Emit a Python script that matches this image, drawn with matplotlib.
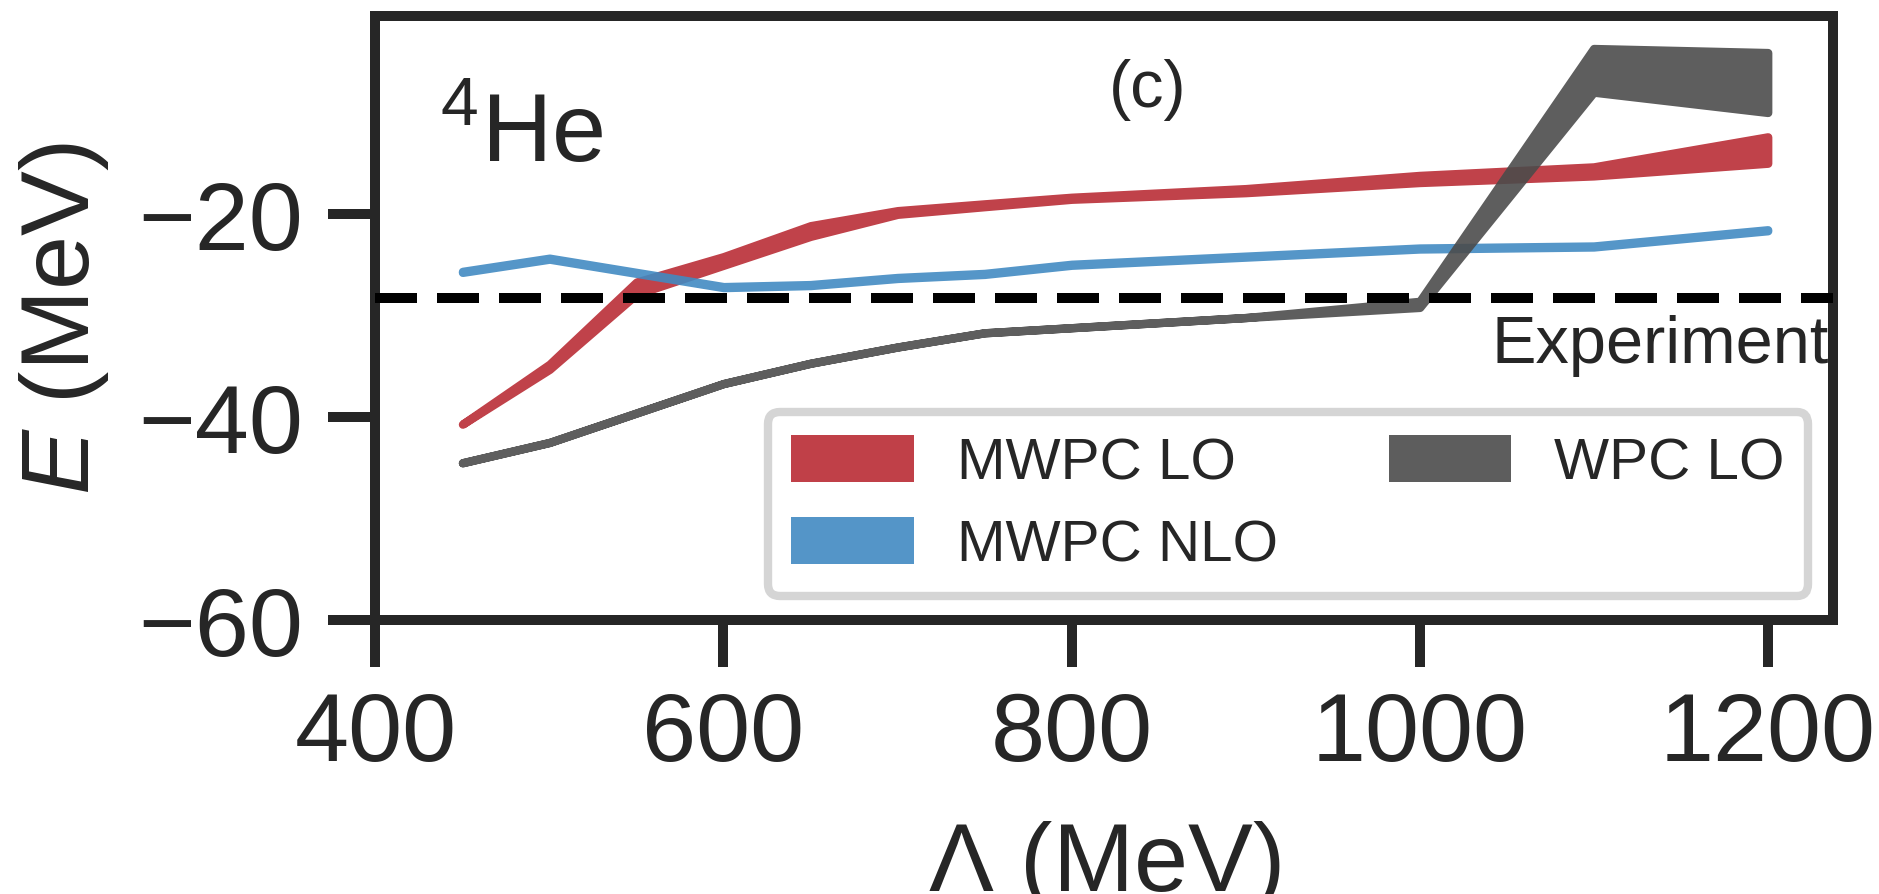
import matplotlib
matplotlib.use("Agg")
import matplotlib.pyplot as plt

plt.rcParams['font.family'] = ['Liberation Sans', 'DejaVu Sans']
plt.rcParams['mathtext.fontset'] = 'custom'
plt.rcParams['mathtext.rm'] = 'Liberation Sans'
plt.rcParams['mathtext.it'] = 'Liberation Sans:italic'
plt.rcParams['axes.unicode_minus'] = True

dark = '#262626'
band_alpha = 0.9

# cutoff values (MeV)
cutoffs = [450, 500, 550, 600, 650, 700, 750, 800, 900, 1000, 1100, 1200]

# MWPC LO band
mwpc_lo_low = [-40.7, -35.3, -27.9, -25.05, -22.2, -20.03, -19.28, -18.55, -17.9, -16.9, -16.25, -15.0]
mwpc_lo_high = [-40.7, -34.8, -26.7, -24.2, -21.15, -19.67, -19.0, -18.35, -17.5, -16.2, -15.36, -12.4]

# MWPC NLO band (very narrow)
mwpc_nlo_low = [-25.75, -24.45, -25.85, -27.25, -27.05, -26.35, -25.95, -25.05, -24.25, -23.45, -23.25, -21.65]
mwpc_nlo_high = [-25.65, -24.35, -25.75, -27.15, -26.95, -26.25, -25.85, -24.95, -24.15, -23.35, -23.15, -21.55]

# WPC LO band
wpc_lo_low = [-44.5, -42.5, -39.6, -36.7, -34.7, -33.1, -31.7, -31.2, -30.2, -29.2, -8.0, -10.0]
wpc_lo_high = [-44.5, -42.5, -39.6, -36.7, -34.7, -33.1, -31.7, -31.2, -30.2, -28.6, -3.7, -4.1]

experiment = -28.3

series = [
    ('MWPC LO', mwpc_lo_low, mwpc_lo_high, '#B92B34'),
    ('MWPC NLO', mwpc_nlo_low, mwpc_nlo_high, '#418AC2'),
    ('WPC LO', wpc_lo_low, wpc_lo_high, '#4B4B4B'),
]


def fade(alpha):
    # draw the band opaque, then make it uniformly transparent so the
    # stroked edge doesn't show darker than the fill.
    # the filtered image ends up blended twice, hence the sqrt
    a = alpha ** 0.5

    def f(img, dpi):
        out = img.copy()
        out[..., 3] *= a
        return out, 0, 0
    return f


fig = plt.figure(figsize=(18.79, 8.95), dpi=100)
ax = fig.add_axes([0.1998, 0.306, 0.7757, 0.675])

for label, lo, hi, c in series:
    band = ax.fill_between(cutoffs, lo, hi, color=c, lw=6, label=label)
    band.set_joinstyle('round')
    band.set_capstyle('round')
    band.set_agg_filter(fade(band_alpha))

ax.axhline(experiment, color='black', lw=7.2, ls=(0, (4.2, 2.0)), zorder=5)
ax.text(1235, -34.6, 'Experiment', ha='right', va='baseline', fontsize=48, color=dark)

ax.text(0.044, 0.76, '$^{4}$He', transform=ax.transAxes, fontsize=70, color=dark,
        ha='left', va='baseline')
ax.text(0.53, 0.851, '(c)', transform=ax.transAxes, fontsize=48, color=dark,
        ha='center', va='baseline')

ax.set_xlim(400, 1237.5)
ax.set_ylim(-60, -0.5)
ax.set_xticks([400, 600, 800, 1000, 1200])
ax.set_yticks([-60, -40, -20])

ax.set_xlabel(r'$\Lambda$ (MeV)', fontsize=70, color=dark, labelpad=28)
ax.set_ylabel('$E$ (MeV)', fontsize=70, color=dark, labelpad=20)

for sp in ax.spines.values():
    sp.set_linewidth(7.2)
    sp.set_color(dark)
ax.tick_params(direction='out', length=34, width=7.2, color=dark, labelcolor=dark,
               labelsize=70)
ax.tick_params(axis='y', pad=18)
ax.tick_params(axis='x', pad=16)

leg = ax.legend(loc='lower right', bbox_to_anchor=(0.983, 0.04), ncol=2, fontsize=42,
                frameon=True, fancybox=True, handlelength=2.1, handleheight=0.85,
                handletextpad=0.74, columnspacing=1.9, labelspacing=0.45,
                borderpad=0.4, borderaxespad=0)
frame = leg.get_frame()
frame.set_edgecolor('#d5d5d5')
frame.set_linewidth(6)
frame.set_facecolor('white')
frame.set_alpha(1)
for t in leg.get_texts():
    t.set_color(dark)
for h in leg.legend_handles:
    h.set_linewidth(0)
    h.set_alpha(band_alpha)

fig.savefig('out.png', dpi=100)
